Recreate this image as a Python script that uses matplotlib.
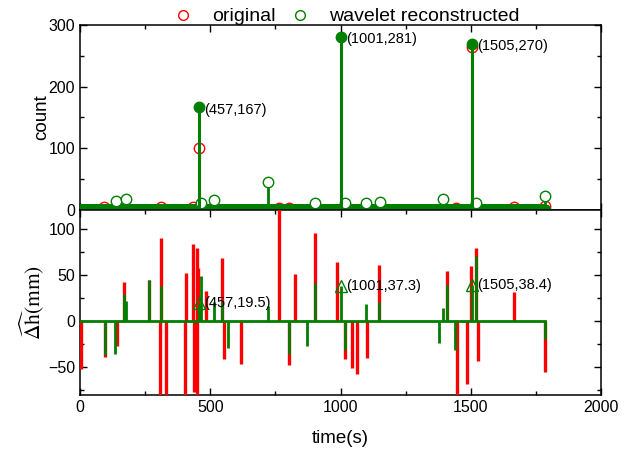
import numpy as np
import matplotlib
matplotlib.use("Agg")
import matplotlib.pyplot as plt
from matplotlib.lines import Line2D

plt.rcParams['font.family'] = ['Liberation Sans', 'DejaVu Sans']
plt.rcParams['mathtext.fontset'] = 'stix'

# ---------------- data ----------------
t_end = 1786  # last sample time (s)

# top panel: count (non-zero events); zero elsewhere
orig_cnt_t = [94, 311, 435, 457, 762, 801, 1444, 1505, 1665, 1786]
orig_cnt_v = [5.5, 5, 5.5, 100, 4, 4, 4, 265, 5, 6.5]
wav_cnt_t = [138, 176, 466, 514, 721, 904, 1017, 1097, 1152, 1393, 1520, 1786]
wav_cnt_v = [14.8, 18, 12, 16, 45, 12, 12, 11.5, 12.5, 17.5, 11, 22]
peak_t = [457, 1001, 1505]
peak_cnt = [167, 281, 270]

# bottom panel: delta h (mm)
orig_dh_t = [4, 95, 142, 170, 263, 307, 311, 331, 403, 408, 433, 437, 448, 450,
             453, 484, 544, 551, 617, 762, 801, 824, 904, 987, 1017, 1045, 1065,
             1102, 1148, 1410, 1446, 1486, 1501, 1520, 1527, 1667, 1786]
orig_dh_v = [-52, -38.5, -27, 42, 44, -95, 90, -95, -95, 52, 83, -77, 79, -95,
             57, 32, 67.6, -40.6, -47, 140, -48, 50.4, 94.6, 64, -41, -51, -57.6,
             -39.6, 61, 54, -95, -68, 59, 79, -43, 31.7, -55]
wav_dh_t = [95, 135, 167, 176, 263, 311, 466, 514, 544, 569, 721, 801, 872, 904,
            1017, 1097, 1148, 1377, 1393, 1410, 1440, 1520, 1786]
wav_dh_v = [-37, -36, 29.5, 21.6, 44, 38, 48.5, 21, 21, -29.5, 16, -36, -27, 41,
            -31.7, 18, 21, -23.4, 13.7, 38.5, -31.3, 70, -19.8]
peak_dh = [19.5, 37.3, 38.4]

RED = '#ff0000'
GREEN = '#007f00'

# ---------------- figure ----------------
fig = plt.figure(figsize=(6.3, 4.53), dpi=100)
L, R = 80 / 630, 601 / 630
ax_top = fig.add_axes([L, 1 - 210 / 453, R - L, 185 / 453])
ax_bot = fig.add_axes([L, 1 - 395 / 453, R - L, 185 / 453], sharex=ax_top)

time = np.arange(0, t_end + 1)
MS = 7.5

# ---- top panel ----
ax = ax_top
zeros = np.zeros_like(time, dtype=float)
ax.plot(time, zeros, 'o', ms=MS, mfc='none', mec=RED, mew=1, zorder=2)
ax.vlines(orig_cnt_t, 0, orig_cnt_v, color=RED, lw=2.2, zorder=3)
ax.plot(orig_cnt_t, orig_cnt_v, 'o', ms=MS, mfc='white', mec=RED, mew=1, zorder=3,
        clip_on=False)
ax.plot(time, zeros, 'o', ms=MS, mfc='none', mec=GREEN, mew=1, zorder=4)
ax.plot([0, t_end], [0, 0], color=GREEN, lw=3.5, zorder=4, clip_on=False,
        solid_capstyle='butt')
ax.vlines(wav_cnt_t, 0, wav_cnt_v, color=GREEN, lw=2, zorder=5)
ax.plot(wav_cnt_t, wav_cnt_v, 'o', ms=MS, mfc='white', mec=GREEN, mew=1, zorder=5)
ax.vlines(peak_t, 0, peak_cnt, color=GREEN, lw=2.2, zorder=6)
ax.plot(peak_t, peak_cnt, 'o', ms=7.5, color=GREEN, zorder=7, clip_on=False)
for t, v in zip(peak_t, peak_cnt):
    ax.annotate(f'({t},{v})', (t, v), xytext=(4, -2), textcoords='offset points',
                ha='left', va='center', fontsize=10.5, zorder=8)
ax.set_ylim(0, 300)
ax.set_yticks([0, 100, 200, 300])
ax.set_yticks([50, 150, 250], minor=True)
ax.set_ylabel('count', fontsize=13.5)
ax.tick_params(axis='x', which='both', labelbottom=False)

handles = [Line2D([], [], ls='none', marker='o', ms=7, mfc='none', mec=RED, mew=1),
           Line2D([], [], ls='none', marker='o', ms=7, mfc='none', mec=GREEN, mew=1)]
ax.legend(handles, ['original', 'wavelet reconstructed'], ncol=2, frameon=False,
          loc='lower center', bbox_to_anchor=(0.508, 0.935), fontsize=14,
          handletextpad=0.85, columnspacing=0.6, borderpad=0.1, handlelength=1.3)

# ---- bottom panel ----
ax = ax_bot
ax.plot([0, t_end], [0, 0], color=GREEN, lw=2, zorder=4)
ax.vlines(orig_dh_t, 0, orig_dh_v, color=RED, lw=2.4, zorder=3)
ax.vlines(wav_dh_t, 0, wav_dh_v, color=GREEN, lw=2, zorder=5)
ax.vlines(peak_t, 0, peak_dh, color=GREEN, lw=2, zorder=5)
ax.plot(peak_t, peak_dh, '^', ms=8, mfc='none', mec=GREEN, mew=1, zorder=6)
for t, v in zip(peak_t, peak_dh):
    ax.annotate(f'({t},{v})', (t, v), xytext=(4, 0), textcoords='offset points',
                ha='left', va='center', fontsize=10.5, zorder=8)
ax.set_ylim(-80, 120)
ax.set_yticks([-50, 0, 50, 100])
ax.set_yticks([-75, -25, 25, 75], minor=True)
ax.set_xlim(0, 2000)
ax.set_xticks([0, 500, 1000, 1500, 2000])
ax.set_xticks([250, 750, 1250, 1750], minor=True)
ax.set_xlabel('time(s)', fontsize=13.5, labelpad=11)
ax.set_ylabel(r'$\widehat{\Delta\mathrm{h}}\mathrm{(mm)}$', fontsize=15.5)

for a in (ax_top, ax_bot):
    a.tick_params(which='both', direction='in', top=True, right=True, labelsize=11.5)
    a.tick_params(which='major', length=5, width=1)
    a.tick_params(which='minor', length=3, width=1)
    for s in a.spines.values():
        s.set_linewidth(1.1)

ax_top.yaxis.set_label_coords(-0.058, 0.5)
ax_bot.yaxis.set_label_coords(-0.063, 0.5)

fig.savefig('out.png', dpi=100)
